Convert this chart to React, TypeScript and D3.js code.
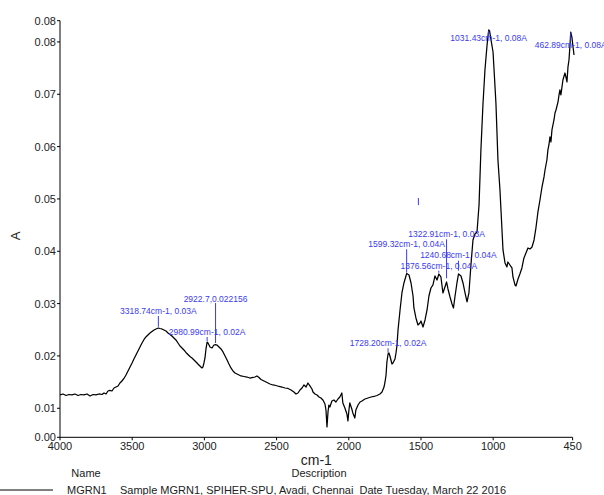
import React from "react";
import * as d3 from "d3";

// Spectrum (wavenumber cm-1, absorbance A)
const wavenumbers = [
  4000, 3979, 3958, 3938, 3917, 3896, 3875, 3855, 3834, 3813, 3792, 3771, 3751, 3730, 3709, 3695, 3681, 3668, 3654, 3640,
  3626, 3612, 3598, 3585, 3571, 3557, 3543, 3529, 3515, 3501, 3488, 3474, 3460, 3446, 3432, 3418, 3405, 3391, 3377, 3363,
  3349, 3335, 3319, 3308, 3294, 3280, 3266, 3252, 3238, 3225, 3211, 3197, 3183, 3169, 3155, 3142, 3128, 3114, 3100, 3086,
  3072, 3058, 3045, 3031, 3017, 3010, 3003, 2996, 2989, 2981, 2975, 2961, 2947, 2934, 2923, 2913, 2899, 2885, 2871, 2857,
  2843, 2830, 2816, 2802, 2788, 2767, 2747, 2726, 2705, 2685, 2663, 2650, 2636, 2622, 2608, 2587, 2566, 2546, 2525, 2504,
  2483, 2463, 2442, 2421, 2400, 2380, 2366, 2352, 2338, 2324, 2310, 2296, 2283, 2269, 2255, 2248, 2234, 2220, 2206, 2193,
  2179, 2165, 2158, 2151, 2144, 2138, 2131, 2117, 2103, 2089, 2075, 2062, 2048, 2041, 2027, 2013, 2006, 1999, 1993, 1979,
  1972, 1958, 1951, 1936, 1922, 1909, 1888, 1867, 1846, 1826, 1805, 1784, 1770, 1756, 1749, 1742, 1736, 1728, 1722, 1715,
  1708, 1701, 1694, 1680, 1673, 1666, 1659, 1645, 1632, 1618, 1604, 1599, 1583, 1569, 1555, 1549, 1535, 1521, 1507, 1500,
  1486, 1472, 1458, 1445, 1431, 1417, 1403, 1389, 1376, 1362, 1348, 1334, 1323, 1313, 1299, 1285, 1275, 1265, 1251, 1240,
  1223, 1209, 1195, 1181, 1168, 1154, 1140, 1126, 1112, 1098, 1085, 1071, 1057, 1043, 1036, 1031, 1025, 1015, 1001, 988,
  981, 967, 953, 946, 932, 918, 905, 898, 884, 870, 863, 849, 842, 828, 815, 801, 787, 773, 759, 745,
  731, 717, 704, 690, 676, 662, 648, 641, 628, 621, 614, 607, 600, 593, 579, 572, 565, 551, 544, 538,
  531, 517, 503, 496, 489, 482, 475, 468, 463, 454, 447, 440,
];
const absorbance = [
  0.01254, 0.01273, 0.01244, 0.01263, 0.01254, 0.01273, 0.01244, 0.01263, 0.01254, 0.01273, 0.01235, 0.01263, 0.01254, 0.01273, 0.01263, 0.01292, 0.01273, 0.0133, 0.0134, 0.0133,
  0.01387, 0.01406, 0.01426, 0.01483, 0.01521, 0.01569, 0.01636, 0.01712, 0.01789, 0.01865, 0.01942, 0.02018, 0.02095, 0.02171, 0.02247, 0.02314, 0.02362, 0.024, 0.02438, 0.02467,
  0.02496, 0.02515, 0.02534, 0.02524, 0.02515, 0.02496, 0.02477, 0.02438, 0.0241, 0.02381, 0.02343, 0.02305, 0.02247, 0.0219, 0.02152, 0.02114, 0.02066, 0.02028, 0.0199, 0.01961,
  0.01922, 0.01884, 0.01846, 0.01808, 0.0177, 0.01789, 0.01865, 0.01961, 0.02133, 0.02266, 0.02247, 0.02171, 0.02152, 0.02209, 0.02216, 0.02209, 0.02171, 0.02133, 0.02076, 0.01999,
  0.01922, 0.01846, 0.0177, 0.01712, 0.01674, 0.01645, 0.01617, 0.01607, 0.01597, 0.01578, 0.01588, 0.01597, 0.01617, 0.01588, 0.0155, 0.01521, 0.01492, 0.01464, 0.01445, 0.01435,
  0.01416, 0.01406, 0.01387, 0.01378, 0.01349, 0.01311, 0.01273, 0.01292, 0.01349, 0.01387, 0.01445, 0.01406, 0.01483, 0.01426, 0.01368, 0.01311, 0.01273, 0.01254, 0.01215, 0.01196,
  0.01158, 0.01081, 0.00967, 0.00642, 0.00929, 0.01062, 0.01024, 0.01139, 0.01158, 0.0112, 0.01177, 0.01215, 0.01292, 0.01101, 0.01005, 0.0089, 0.00757, 0.00967, 0.01101, 0.00986,
  0.0091, 0.00814, 0.00967, 0.01062, 0.0112, 0.01139, 0.01177, 0.01196, 0.01215, 0.01225, 0.01244, 0.01273, 0.01311, 0.01406, 0.01502, 0.01636, 0.01884, 0.02037, 0.02056, 0.01999,
  0.01922, 0.01846, 0.01865, 0.01942, 0.02056, 0.02209, 0.02496, 0.02878, 0.03203, 0.03394, 0.03528, 0.03575, 0.03547, 0.03394, 0.03145, 0.02916, 0.02725, 0.02591, 0.0263, 0.02668,
  0.02553, 0.02687, 0.02878, 0.03145, 0.03298, 0.03356, 0.03528, 0.03451, 0.03566, 0.03509, 0.03203, 0.03318, 0.03413, 0.03279, 0.03126, 0.02992, 0.02916, 0.03126, 0.03394, 0.03566,
  0.03528, 0.03394, 0.03203, 0.03031, 0.03203, 0.03738, 0.04216, 0.0433, 0.04369, 0.04884, 0.05936, 0.06795, 0.07464, 0.07923, 0.08114, 0.08229, 0.0821, 0.08038, 0.07808, 0.07178,
  0.06834, 0.05744, 0.05171, 0.04789, 0.04025, 0.03776, 0.037, 0.03795, 0.03738, 0.03681, 0.03509, 0.03356, 0.03337, 0.0347, 0.03566, 0.03681, 0.03872, 0.03967, 0.04063, 0.04044,
  0.04082, 0.04216, 0.04445, 0.04751, 0.0498, 0.05228, 0.0542, 0.05553, 0.05744, 0.05936, 0.06031, 0.06184, 0.06088, 0.06318, 0.06509, 0.06642, 0.067, 0.06853, 0.06987, 0.07082,
  0.06987, 0.07273, 0.07407, 0.0733, 0.07235, 0.07522, 0.07655, 0.07942, 0.0819, 0.08076, 0.07904, 0.07751,
];

// Peak annotations
const peakWavenumbers = [3318.74, 2980.99, 2922.7, 1728.2, 1599.32, 1376.56, 1322.91, 1240.68, 1031.43, 462.89, 1518];
const peakLabels = [
  "3318.74cm-1, 0.03A",
  "2980.99cm-1, 0.02A",
  "2922.7,0.022156",
  "1728.20cm-1, 0.02A",
  "1599.32cm-1, 0.04A",
  "1376.56cm-1, 0.04A",
  "1322.91cm-1, 0.03A",
  "1240.68cm-1, 0.04A",
  "1031.43cm-1, 0.08A",
  "462.89cm-1, 0.08A",
  "",
];
// label baseline level and marker line extent, in absorbance units
const labelLevels = [0.02801, 0.024, 0.03031, 0.02181, 0.04072, 0.03652, 0.04273, 0.03862, 0.08018, 0.07885, 0];
const markerTops = [0.02763, 0.02362, 0.03012, 0.02146, 0.04038, 0.03629, 0.04229, 0.0382, 0.08215, 0.08177, 0.05018];
const markerBottoms = [0.02557, 0.02286, 0.02247, 0.02062, 0.03591, 0.0359, 0.03484, 0.03629, 0.08114, 0.08024, 0.04882];

const xDomain = [4000, 450];
const yDomain = [0.00445, 0.08406];
const xTicks = [4000, 3500, 3000, 2500, 2000, 1500, 1000, 450];
const yTicks = [0.00445, 0.01, 0.02, 0.03, 0.04, 0.05, 0.06, 0.07, 0.08, 0.08406];

const legendName = "MGRN1";
const legendDescription = "Sample MGRN1, SPIHER-SPU, Avadi, Chennai  Date Tuesday, March 22 2016";

const FONT = "'Liberation Sans', Arial, Helvetica, sans-serif";
const BLUE = "#3a3af2";

export default function App() {
  const W = 604;
  const H = 495;
  const left = 60;
  const right = 572.6;
  const top = 20.7;
  const bottom = 437.3;

  const x = d3.scaleLinear().domain(xDomain).range([left, right]);
  const y = d3.scaleLinear().domain(yDomain).range([bottom, top]);
  const pts: [number, number][] = wavenumbers.map((w, i) => [w, absorbance[i]]);
  const line = d3
    .line<[number, number]>()
    .x((d) => x(d[0]))
    .y((d) => y(d[1]));
  const fmtY = d3.format(".2f");

  return (
    <svg
      width={W}
      height={H}
      viewBox={`0 0 ${W} ${H}`}
      style={{ position: "absolute", left: 0, top: 0, background: "#fff" }}
      fontFamily={FONT}
    >
      <rect x={0} y={0} width={W} height={H} fill="#fff" />
      {/* axes */}
      <line x1={left} y1={top} x2={left} y2={bottom} stroke="#000" strokeWidth={1} />
      <line x1={left} y1={bottom} x2={right} y2={bottom} stroke="#000" strokeWidth={1} />
      {yTicks.map((t, i) => (
        <g key={"y" + i}>
          <line x1={left - 3} x2={left} y1={y(t)} y2={y(t)} stroke="#000" />
          <text x={left - 4} y={y(t) + 4} fontSize={11} textAnchor="end" fill="#222">
            {fmtY(t)}
          </text>
        </g>
      ))}
      {xTicks.map((t, i) => (
        <g key={"x" + i}>
          <line x1={x(t)} x2={x(t)} y1={bottom} y2={bottom + 3} stroke="#000" />
          <text x={x(t)} y={bottom + 12.5} fontSize={11} textAnchor="middle" fill="#222">
            {t}
          </text>
        </g>
      ))}
      <text x={20} y={236} fontSize={13} textAnchor="middle" transform="rotate(-90 20 236)" fill="#222">
        A
      </text>
      <text x={(left + right) / 2} y={464.5} fontSize={14} textAnchor="middle" fill="#222">
        cm-1
      </text>

      {/* spectrum */}
      <path d={line(pts) || ""} fill="none" stroke="#000" strokeWidth={1.25} strokeLinejoin="round" />

      {/* annotations */}
      {peakWavenumbers.map((w, i) => (
        <g key={"a" + i}>
          <line
            x1={x(w)}
            x2={x(w)}
            y1={y(markerTops[i])}
            y2={y(markerBottoms[i])}
            stroke={BLUE}
            strokeWidth={1}
          />
          {peakLabels[i] && (
            <text x={x(w)} y={y(labelLevels[i])} fontSize={8.5} textAnchor="middle" fill={BLUE}>
              {peakLabels[i]}
            </text>
          )}
        </g>
      ))}

      {/* legend */}
      <text x={86} y={476.5} fontSize={11} textAnchor="middle" fill="#222">
        Name
      </text>
      <text x={319} y={476.5} fontSize={11} textAnchor="middle" fill="#222">
        Description
      </text>
      <line x1={0} x2={53} y1={490} y2={490} stroke="#000" strokeWidth={1} />
      <text x={67} y={494} fontSize={11} fill="#222">
        {legendName}
      </text>
      <text x={120} y={494} fontSize={11} fill="#222" xmlSpace="preserve" style={{ whiteSpace: "pre" }}>
        {legendDescription}
      </text>
    </svg>
  );
}
